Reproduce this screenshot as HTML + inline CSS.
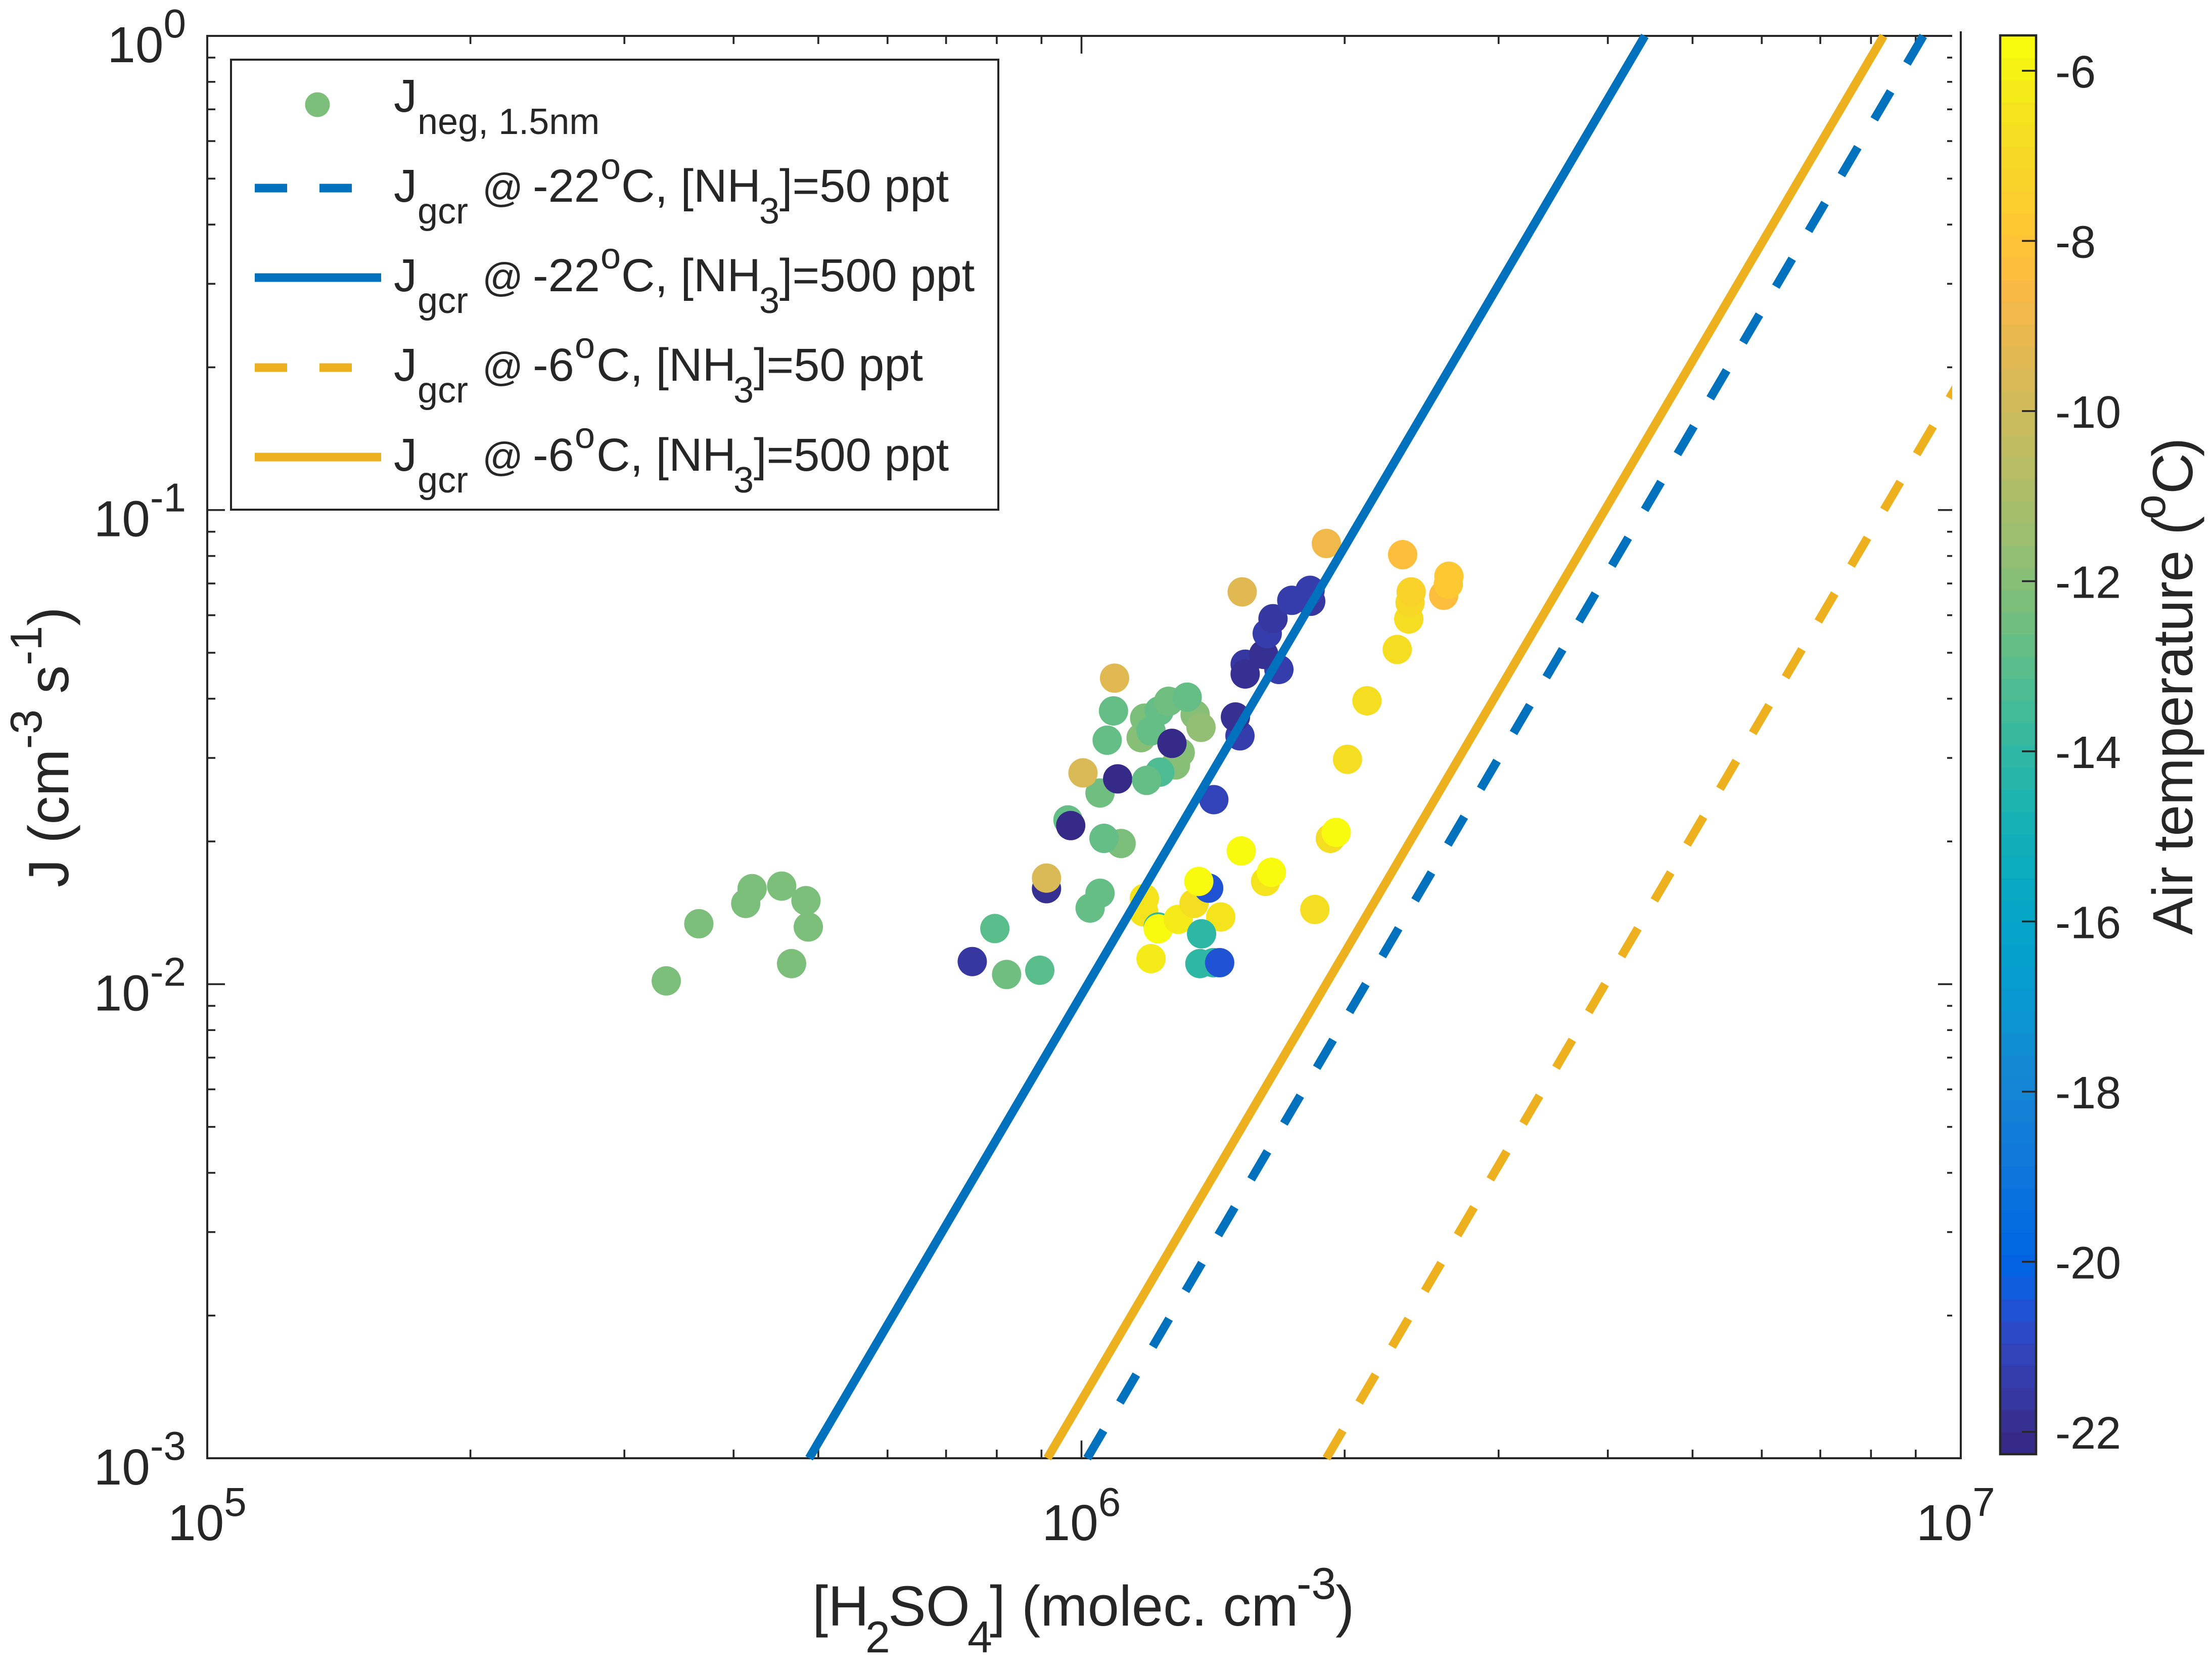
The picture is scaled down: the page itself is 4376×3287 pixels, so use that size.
<!DOCTYPE html>
<html lang="en">
<head>
<meta charset="utf-8">
<title>J versus H2SO4</title>
<style>
html,body{margin:0;padding:0;background:#fff;}
svg{display:block;}
text{font-family:"Liberation Sans",sans-serif;fill:#262626;}
</style>
</head>
<body>
<svg id="chart" xmlns="http://www.w3.org/2000/svg" width="4376" height="3287" viewBox="0 0 4376 3287">
<rect x="0" y="0" width="4376" height="3287" fill="#ffffff"/>
<defs><clipPath id="plot-clip"><rect x="405" y="60" width="3457" height="2832"/></clipPath></defs>
<g id="axes" stroke="#262626" stroke-width="4" fill="none">
<line x1="410" y1="69" x2="410" y2="2886"/>
<line x1="408" y1="2884" x2="3881" y2="2884"/>
<line x1="408" y1="71" x2="3862" y2="71"/>
<line x1="3879" y1="62" x2="3879" y2="2886"/>
</g>
<g id="ticks"></g>
<g id="tick-labels"></g>
<g id="points"></g>
<g id="lines" clip-path="url(#plot-clip)"></g>

<text font-size="112"><tspan x="1607" y="3215">[H</tspan><tspan x="1712" y="3268" font-size="88">2</tspan><tspan x="1757" y="3215">SO</tspan><tspan x="1914" y="3268" font-size="88">4</tspan><tspan x="1958" y="3215">]</tspan><tspan x="2021" y="3215">(molec. cm</tspan><tspan x="2565" y="3162" font-size="88">-3</tspan><tspan x="2642" y="3215">)</tspan></text>
<text font-size="112" transform="translate(135,1755) rotate(-90)">J (cm<tspan font-size="88" dy="-53">-3</tspan><tspan dy="53"> s</tspan><tspan font-size="88" dy="-53">-1</tspan><tspan dy="53">)</tspan></text>

<g id="legend">
<rect x="457" y="118" width="1518" height="890" fill="#ffffff" stroke="#262626" stroke-width="4"/>
<circle cx="628" cy="207" r="24.5" fill="#7CBF7B"/>
<line x1="504" y1="372" x2="754" y2="372" stroke="#0072BD" stroke-width="17" stroke-dasharray="64 64"/>
<line x1="504" y1="549" x2="754" y2="549" stroke="#0072BD" stroke-width="17"/>
<line x1="504" y1="727" x2="754" y2="727" stroke="#EDB120" stroke-width="17" stroke-dasharray="64 64"/>
<line x1="504" y1="904" x2="754" y2="904" stroke="#EDB120" stroke-width="17"/>

<text font-size="92"><tspan x="779" y="221">J</tspan><tspan x="826" y="265" font-size="72">neg, 1.5nm</tspan></text>

<text font-size="92"><tspan x="779" y="399">J</tspan><tspan x="826" y="442" font-size="72">gcr</tspan><tspan x="954" y="399" font-size="80">@</tspan><tspan x="1054" y="399">-22</tspan><tspan x="1188" y="354" font-size="72">o</tspan><tspan x="1229" y="399">C, [NH</tspan><tspan x="1502" y="442" font-size="72">3</tspan><tspan x="1542" y="399">]=50 ppt</tspan></text>

<text font-size="92"><tspan x="779" y="576">J</tspan><tspan x="826" y="619" font-size="72">gcr</tspan><tspan x="954" y="576" font-size="80">@</tspan><tspan x="1054" y="576">-22</tspan><tspan x="1188" y="531" font-size="72">o</tspan><tspan x="1229" y="576">C, [NH</tspan><tspan x="1502" y="619" font-size="72">3</tspan><tspan x="1542" y="576">]=500 ppt</tspan></text>

<text font-size="92"><tspan x="779" y="753">J</tspan><tspan x="826" y="796" font-size="72">gcr</tspan><tspan x="954" y="753" font-size="80">@</tspan><tspan x="1054" y="753">-6</tspan><tspan x="1137" y="708" font-size="72">o</tspan><tspan x="1180" y="753">C, [NH</tspan><tspan x="1451" y="796" font-size="72">3</tspan><tspan x="1491" y="753">]=50 ppt</tspan></text>

<text font-size="92"><tspan x="779" y="931">J</tspan><tspan x="826" y="974" font-size="72">gcr</tspan><tspan x="954" y="931" font-size="80">@</tspan><tspan x="1054" y="931">-6</tspan><tspan x="1137" y="886" font-size="72">o</tspan><tspan x="1180" y="931">C, [NH</tspan><tspan x="1451" y="974" font-size="72">3</tspan><tspan x="1491" y="931">]=500 ppt</tspan></text>
</g>

<g id="colorbar"></g>
<text font-size="112" transform="translate(4337,1849) rotate(-90)"><tspan x="0" y="0" letter-spacing="-0.8">Air temperature</tspan><tspan x="791" y="0">(</tspan><tspan x="822" y="-54" font-size="88">o</tspan><tspan x="872" y="0">C</tspan><tspan x="946" y="0">)</tspan></text>
</svg>

<script>
// ---- chart data ----
var h2so4 = [
3.35e5,3.65e5,4.20e5,4.13e5,4.54e5,4.84e5,4.87e5,4.66e5,
7.50e5,8.21e5,8.96e5,7.96e5,9.12e5,9.12e5,1.023e6,1.05e6,
1.18e6,1.178e6,1.224e6,1.224e6,1.29e6,1.345e6,1.398e6,1.362e6,1.443e6,1.372e6,1.366e6,1.415e6,1.439e6,1.201e6,
1.523e6,1.624e6,1.649e6,1.849e6,1.926e6,1.956e6,
1.11e6,1.061e6,9.65e5,9.72e5,1.05e6,1.004e6,1.10e6,1.281e6,1.297e6,1.229e6,1.187e6,
1.07e6,1.088e6,1.17e6,1.181e6,1.201e6,1.227e6,1.258e6,1.349e6,1.37e6,1.321e6,1.269e6,1.091e6,
1.417e6,1.518e6,1.50e6,1.682e6,1.539e6,1.616e6,1.539e6,1.631e6,1.656e6,1.829e6,1.74e6,1.826e6,1.527e6,
1.906e6,2.33e6,2.596e6,2.628e6,2.632e6,2.368e6,2.376e6,2.383e6,2.297e6,2.121e6,2.015e6
];
var jNeg = [
1.016e-2,1.341e-2,1.59e-2,1.48e-2,1.61e-2,1.50e-2,1.32e-2,1.105e-2,
1.116e-2,1.048e-2,1.07e-2,1.31e-2,1.59e-2,1.674e-2,1.447e-2,1.555e-2,
1.517e-2,1.42e-2,1.32e-2,1.308e-2,1.37e-2,1.48e-2,1.594e-2,1.647e-2,1.386e-2,1.277e-2,1.105e-2,1.11e-2,1.11e-2,1.132e-2,
1.91e-2,1.647e-2,1.722e-2,1.437e-2,2.03e-2,2.09e-2,
1.98e-2,2.03e-2,2.22e-2,2.16e-2,2.53e-2,2.79e-2,2.71e-2,2.90e-2,3.08e-2,2.80e-2,2.69e-2,
3.27e-2,3.77e-2,3.31e-2,3.64e-2,3.42e-2,3.77e-2,3.95e-2,3.70e-2,3.48e-2,4.03e-2,3.22e-2,4.42e-2,
2.45e-2,3.34e-2,3.66e-2,4.61e-2,4.73e-2,4.96e-2,4.51e-2,5.49e-2,5.90e-2,6.42e-2,6.45e-2,6.77e-2,6.72e-2,
8.50e-2,8.05e-2,6.61e-2,6.98e-2,7.25e-2,5.89e-2,6.38e-2,6.72e-2,5.08e-2,3.96e-2,2.98e-2
];
var airTemp = [
-12.23,-12.23,-12.23,-12.23,-12.23,-12.23,-12.23,-12.23,
-21.6,-12.5,-13.0,-13.0,-21.87,-9.6,-12.75,-12.75,
-6.5,-6.5,-14.05,-5.7,-6.3,-6.8,-20.57,-5.7,-6.5,-14.05,-14.05,-14.05,-20.57,-6.3,
-5.7,-6.5,-5.7,-6.8,-6.8,-5.7,
-12.23,-12.75,-12.75,-22.13,-12.5,-9.6,-22.13,-11.97,-11.97,-13.27,-12.75,
-12.75,-12.75,-11.97,-12.23,-12.75,-12.75,-12.6,-11.97,-11.7,-12.75,-22.13,-9.37,
-21.09,-21.35,-21.87,-21.35,-21.6,-21.87,-21.87,-21.35,-21.6,-21.6,-21.35,-21.35,-9.37,
-8.85,-8.3,-8.3,-7.8,-7.8,-6.8,-7.0,-7.3,-6.8,-6.8,-6.8
];

var gcrJ = [1e-3, 1];
var gcrColdLow = [1.015e6, 9.18e6];
var gcrColdHigh = [4.88e5, 4.41e6];
var gcrWarmLow = [1.906e6, 1.724e7];
var gcrWarmHigh = [9.14e5, 8.27e6];

var xTickExponents = [5, 6, 7];
var yTickExponents = [0, -1, -2, -3];
var minorMultipliers = [2, 3, 4, 5, 6, 7, 8, 9];
var xMinorDecades = [5, 6];
var yMinorDecades = [-3, -2, -1];
var yMajorInner = [-1, -2];
var xMajorInner = [6];
var colorbarTicks = [-6, -8, -10, -12, -14, -16, -18, -20, -22];
var colorMin = -22.26;
var colorMax = -5.59;

// parula colormap, 64 levels
var parula = ["#352A87","#363093","#3637A0","#353DAD","#3243BA","#2C4AC7","#2053D4","#0F5CDD","#0363E1","#0268E1","#046DE0","#0871DE","#0D75DC","#1079DA","#127DD8","#1481D6","#1485D4","#1389D3","#108ED2","#0C93D2","#0998D1","#079CCF","#06A0CD","#06A4CA","#06A7C6","#07A9C2","#0AACBE","#0FAEB9","#15B1B4","#1DB3AF","#25B5A9","#2EB7A4","#38B99E","#42BB98","#4DBC92","#59BD8C","#65BE86","#71BF80","#7CBF7B","#87BF77","#92BF73","#9CBF6F","#A5BE6B","#AEBD67","#B7BD64","#C0BC60","#C8BC5D","#D1BB59","#D9BA56","#E1B952","#E9B94E","#F1B94A","#F8BA44","#FDBE3D","#FFC337","#FEC832","#FCCE2E","#FAD32A","#F7D826","#F5DE21","#F5E41D","#F5EB18","#F6F313","#F9FB0E"];

// ---- axis functions ----
function xScale(v) { return 410 + 1729.5 * (Math.log10(v) - 5); }
function yScale(v) { return 71 - 937.7 * Math.log10(v); }
function cbScale(t) { return 71 + (colorMax - t) * 168.25; }
function colorFor(t) {
  var i = Math.floor((t - colorMin) / (colorMax - colorMin) * parula.length);
  i = Math.max(0, Math.min(parula.length - 1, i));
  return parula[i];
}

var NS = "http://www.w3.org/2000/svg";
function make(tag, attrs, parent) {
  var el = document.createElementNS(NS, tag);
  for (var k in attrs) { el.setAttribute(k, attrs[k]); }
  parent.appendChild(el);
  return el;
}

// ---- ticks ----
var tickGroup = document.getElementById("ticks");
function tickLine(x1, y1, x2, y2) {
  var el = make("line", {x1: x1, y1: y1, x2: x2, y2: y2, stroke: "#262626", "stroke-width": 3.6}, tickGroup);
  
  
}
xMinorDecades.forEach(function (d) {
  minorMultipliers.forEach(function (m) {
    var x = xScale(m * Math.pow(10, d));
    tickLine(x, 2884, x, 2867);
    tickLine(x, 71, x, 87);
  });
});
xMajorInner.forEach(function (d) {
  var x = xScale(Math.pow(10, d));
  tickLine(x, 2884, x, 2849);
  tickLine(x, 71, x, 106);
});
yMinorDecades.forEach(function (d) {
  minorMultipliers.forEach(function (m) {
    var y = yScale(m * Math.pow(10, d));
    tickLine(410, y, 426, y);
    tickLine(3852, y, 3862, y);
  });
});
yMajorInner.forEach(function (d) {
  var y = yScale(Math.pow(10, d));
  tickLine(410, y, 445, y);
  tickLine(3834, y, 3862, y);
});

// ---- tick labels ----
var labelGroup = document.getElementById("tick-labels");
xTickExponents.forEach(function (e) {
  var x = xScale(Math.pow(10, e));
  var t = make("text", {x: x - 78, y: 3046, "font-size": 100}, labelGroup);
  
  
  t.textContent = "10";
  var s = make("tspan", {"font-size": 80, dy: -48}, t);
  s.textContent = String(e);
});
yTickExponents.forEach(function (e) {
  var y = yScale(Math.pow(10, e));
  var t = make("text", {x: 368, y: y + 52, "font-size": 100, "text-anchor": "end"}, labelGroup);
  
  
  t.textContent = "10";
  var s = make("tspan", {"font-size": 80, dy: -49}, t);
  s.textContent = String(e);
});

// ---- scatter ----
var pointGroup = document.getElementById("points");
h2so4.forEach(function (c, i) {
  var dot = make("ellipse", {cx: xScale(c), cy: yScale(jNeg[i]), rx: 29, ry: 29, fill: colorFor(airTemp[i])}, pointGroup);
  
  
});

// ---- gcr lines ----
var lineGroup = document.getElementById("lines");
function drawGcr(xs, ys, color, dashed, name) {
  var ln = make("line", {x1: xScale(xs[0]), y1: yScale(ys[0]), x2: xScale(xs[1]), y2: yScale(ys[1]), stroke: color, "stroke-width": 17, fill: "none"}, lineGroup);
  if (dashed) { ln.setAttribute("stroke-dasharray", "64 64"); }
  
  
}
drawGcr(gcrColdHigh, gcrJ, "#0072BD", false, "line-cold-500ppt");
drawGcr(gcrWarmHigh, gcrJ, "#EDB120", false, "line-warm-500ppt");
drawGcr(gcrColdLow, gcrJ, "#0072BD", true, "line-cold-50ppt");
drawGcr(gcrWarmLow, gcrJ, "#EDB120", true, "line-warm-50ppt");

// ---- colorbar ----
var cb = document.getElementById("colorbar");
var step = (colorMax - colorMin) / parula.length;
parula.forEach(function (col, i) {
  var top = cbScale(colorMin + (i + 1) * step);
  var bottom = cbScale(colorMin + i * step);
  var cell = make("rect", {x: 3957, y: top, width: 71, height: bottom - top + 0.6, fill: col}, cb);
  
  
});
var cbFrame = make("rect", {x: 3957, y: 70, width: 71, height: 2806, fill: "none", stroke: "#262626", "stroke-width": 4.5}, cb);


colorbarTicks.forEach(function (t) {
  var y = cbScale(t);
  var tick = make("line", {x1: 4000, y1: y, x2: 4028, y2: y, stroke: "#262626", "stroke-width": 3.6}, cb);
  
  
  var lab = make("text", {x: 4066, y: y + 33, "font-size": 90}, cb);
  
  
  lab.textContent = String(t);
});
</script>
</body>
</html>
